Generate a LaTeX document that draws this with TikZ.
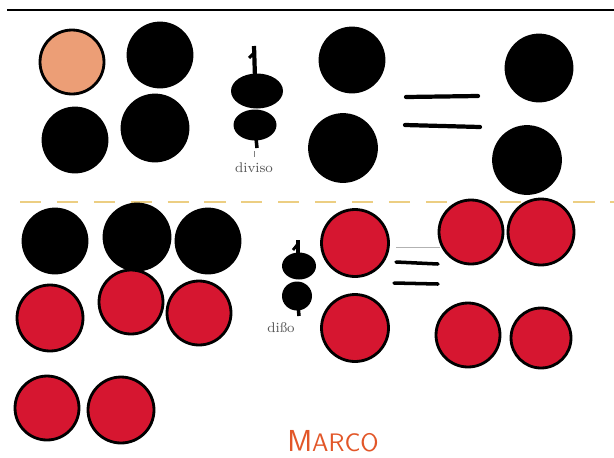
\documentclass[tikz,border=0pt]{standalone}
\usepackage{tikz}
\usetikzlibrary{shapes.geometric, positioning}
\definecolor{dotred}{RGB}{214,22,48}
\definecolor{dotpeach}{RGB}{236,158,118}
\definecolor{sepyellow}{RGB}{236,206,130}
\definecolor{nameorange}{RGB}{226,86,40}

\begin{document}
\begin{tikzpicture}[
    x=0.02cm, y=-0.02cm,
    dot/.style={circle, draw=black, line width=1.6pt, minimum size=1.28cm, inner sep=0pt},
    blackdot/.style={dot, fill=black},
    reddot/.style={dot, fill=dotred},
    peachdot/.style={dot, fill=dotpeach},
    blob/.style={ellipse, fill=black, inner sep=0pt},
    bar/.style={line width=2.4pt, line cap=round},
    label/.style={font=\footnotesize, text=gray!70!black}
]
\useasboundingbox (0,0) rectangle (614,457);

% Lines
\draw [line width=1.2pt] (7,10) -- (614,10);
\draw [sepyellow, line width=0.8pt, dash pattern=on 12pt off 9pt] (20,202) -- (614,202);

% Top half
\node (t1) [peachdot] at (72,62) {};
\node (t2) [blackdot] at (160,55) {};
\node (t3) [blackdot] at (75,140) {};
\node (t4) [blackdot, minimum size=1.32cm] at (155,128) {};

\node (d1a) [blob, minimum width=1.04cm, minimum height=0.7cm] at (257,91) {};
\node (d1b) [blob, minimum width=0.86cm, minimum height=0.62cm] at (255,125) {};
\draw [line width=2.4pt] (254,46) -- (255,78);
\draw [line width=1.8pt] (249,58) -- (255,52);
\draw [line width=2pt] (256,138) -- (257,148);
\node (lab1) [label] at (254,168) {diviso};
\draw [gray, thin] (lab1.north) -- ++(0,-6);

\node (t5) [blackdot] at (352,60) {};
\node (t6) [blackdot, minimum size=1.34cm] at (343,148) {};
\draw [bar] (406,97) -- (478,96);
\draw [bar] (405,125) -- (480,127);
\node (t7) [blackdot, minimum size=1.32cm] at (539,68) {};
\node (t8) [blackdot, minimum size=1.34cm] at (527,160) {};

% Bottom half
\node (b1) [blackdot] at (55,241) {};
\node (b2) [blackdot, minimum size=1.32cm] at (137,237) {};
\node (b3) [blackdot] at (208,241) {};
\node (b4) [reddot, minimum size=1.32cm] at (50,318) {};
\node (b5) [reddot] at (131,302) {};
\node (b6) [reddot] at (199,313) {};

\node (d2a) [blob, minimum width=0.68cm, minimum height=0.54cm] at (299,266) {};
\node (d2b) [blob, minimum width=0.6cm, minimum height=0.58cm] at (297,296) {};
\draw [line width=2.2pt] (298,240) -- (298,258);
\draw [line width=1.6pt] (293,250) -- (297,245);
\draw [line width=2pt] (298,305) -- (299,316);
\node (lab2) [label] at (281,328) {di\ss o};

\node (b7) [reddot, minimum size=1.34cm] at (355,243) {};
\node (b8) [reddot, minimum size=1.34cm] at (355,328) {};
\draw [gray!60, thin] (396,247) -- (440,247);
\draw [bar, line width=2pt] (396,262) -- (438,264);
\draw [bar, line width=2pt] (394,283) -- (438,284);
\node (b9) [reddot] at (471,232) {};
\node (b10) [reddot, minimum size=1.32cm] at (541,232) {};
\node (b11) [reddot] at (468,335) {};
\node (b12) [reddot, minimum size=1.2cm] at (541,338) {};

\node (b13) [reddot] at (47,408) {};
\node (b14) [reddot, minimum size=1.32cm] at (121,410) {};

\node (name) [text=nameorange, font=\sffamily, anchor=south] at (333,458) {{\LARGE M}{\Large ARCO}};

\end{tikzpicture}
\end{document}
